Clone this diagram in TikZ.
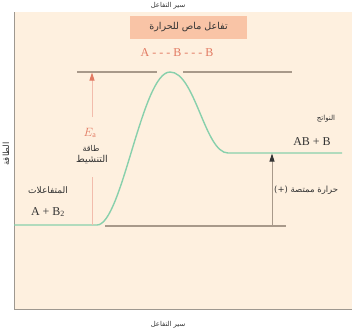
\documentclass[tikz,border=0pt]{standalone}
\usepackage{fontspec}
\setmainfont{Liberation Serif}
\newfontfamily\arabicfont[Script=Arabic]{DejaVu Sans}
\TeXXeTstate=1
\usetikzlibrary{arrows.meta}
\definecolor{bgc}{HTML}{FEF0DF}
\definecolor{boxc}{HTML}{F9C4A6}
\definecolor{redc}{HTML}{E27A62}
\definecolor{pinkc}{HTML}{F2BCAC}
\definecolor{greenc}{HTML}{88D0AC}
\definecolor{linec}{HTML}{A8998A}
\definecolor{borderc}{HTML}{9E9890}
\definecolor{txtc}{HTML}{333333}
\tikzset{
  ar/.style={font=\arabicfont\fontsize{#1}{#1}\selectfont, text=txtc, inner sep=0pt},
  ar/.default=7,
  lat/.style={font=\fontsize{12}{14}\selectfont, text=txtc, inner sep=0pt},
  level/.style={draw=linec, line width=1.1pt},
}
\begin{document}
\begin{tikzpicture}[x=1pt,y=-1pt]
\useasboundingbox (0,0) rectangle (352,333);
\fill[bgc] (14,12) rectangle (352,309);
\draw[borderc, line width=0.9pt] (14,12) -- (14,309) -- (352,309);
% labels
\node[ar=6.8] (top) at (168,6) {\beginR سير التفاعل\endR};
\node[ar=6.8] (bot) at (168,325) {\beginR سير التفاعل\endR};
\node[ar=8.5, rotate=90] (energy) at (6,154) {\beginR الطاقة\endR};
\node[fill=boxc, minimum width=117pt, minimum height=23pt, inner sep=0pt] (title) at (188.5,27.5) {};
\node[ar=9.5] (titletxt) at (title) {\beginR تفاعل ماص للحرارة\endR};
\node[lat, text=redc] (ts) at (177,53) {A - - - B - - - B};
% levels
\coordinate (t1) at (77,72); \coordinate (t2) at (157,72);
\coordinate (t3) at (183,72); \coordinate (t4) at (292,72);
\coordinate (b1) at (105,226); \coordinate (b2) at (286,226);
\draw[level] (t1) -- (t2);
\draw[level] (t3) -- (t4);
\draw[level] (b1) -- (b2);
% curve
\coordinate (c0) at (14,225); \coordinate (c1) at (97,225);
\coordinate (pk) at (170,72); \coordinate (c2) at (228,153);
\coordinate (c3) at (342,153);
\draw[greenc, line width=1.4pt] (c0) -- (c1) .. controls (122,225) and (142,72) .. (pk)
  .. controls (195,72) and (205,153) .. (c2) -- (c3);
% Ea arrow
\coordinate (ea0) at (92,225); \coordinate (ea1) at (92,177);
\coordinate (ea2) at (92,117); \coordinate (ea3) at (92,72.5);
\draw[pinkc, line width=0.9pt] (ea0) -- (ea1);
\draw[pinkc, line width=0.9pt, -{Triangle[length=8pt,width=5pt,fill=redc,color=redc]}] (ea2) -- (ea3);
\node[text=redc, inner sep=0pt, font=\fontsize{12}{14}\selectfont] (ea) at (90,133) {$E_{\mathrm{a}}$};
\node[ar=8] (ealab1) at (91,148) {\beginR طاقة\endR};
\node[ar=9.5] (ealab2) at (92,160) {\beginR التنشيط\endR};
% dH arrow
\coordinate (h0) at (272,226); \coordinate (h1) at (272,153.5);
\draw[linec, line width=0.9pt, -{Triangle[length=8pt,width=5pt,fill=txtc,color=txtc]}] (h0) -- (h1);
\node[ar=8.5, anchor=west] (heat) at (274,190) {\beginR حرارة ممتصة (+)\endR};
% reactants / products
\node[ar=9] (reac) at (48,190) {\beginR المتفاعلات\endR};
\node[lat] (reacf) at (48,212) {A + B\textsubscript{2}};
\node[ar=7] (prod) at (326,119) {\beginR النواتج\endR};
\node[lat] (prodf) at (312,142) {AB + B};
\end{tikzpicture}
\end{document}
